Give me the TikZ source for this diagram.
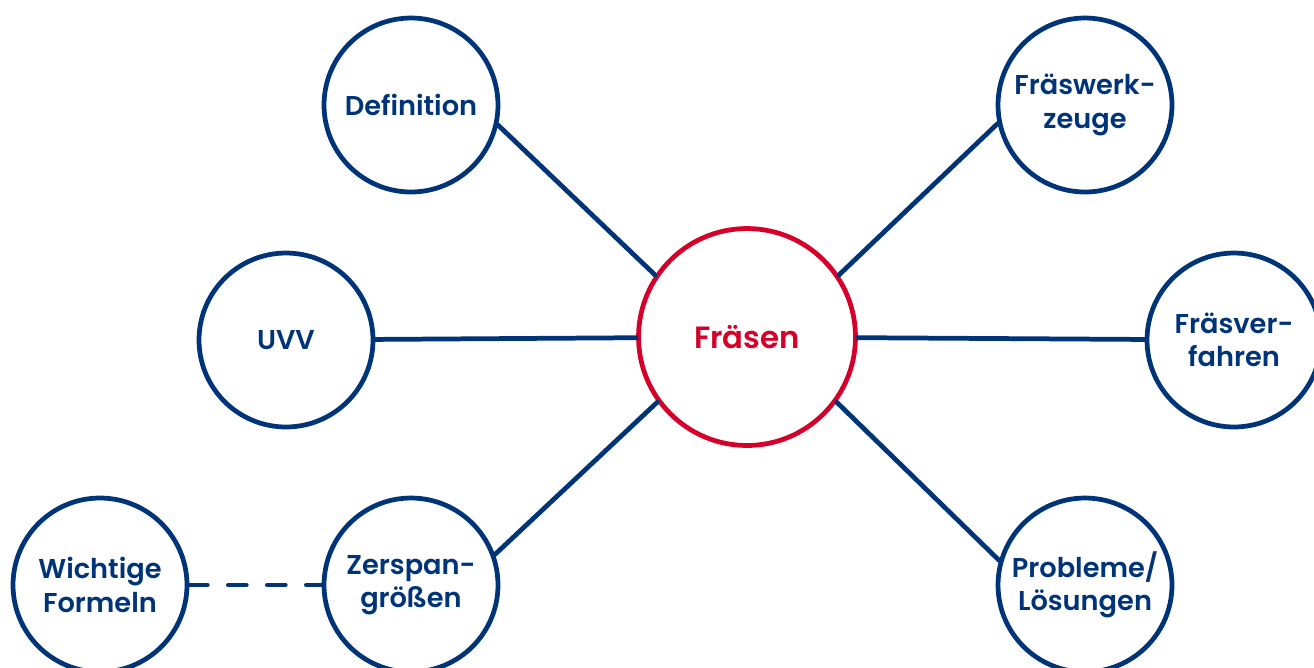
\documentclass[tikz,border=0pt]{standalone}
\usepackage{fontspec}
\setmainfont{Poppins}[BoldFont={Poppins SemiBold}]
\definecolor{blau}{RGB}{0,52,120}
\definecolor{rot}{RGB}{213,0,42}
\tikzset{
	kreis/.style={circle,draw=blau,text=blau,line width=2.7pt,minimum size=3.48cm,inner sep=0pt,align=center,font=\bfseries\fontsize{15.5}{19}\selectfont},
	mitte/.style={kreis,draw=rot,text=rot,minimum size=4.34cm,font=\bfseries\fontsize{17.5}{21}\selectfont},
	verbindung/.style={draw=blau,line width=2.7pt}
}
\begin{document}
\begin{tikzpicture}[x=0.02cm,y=-0.02cm,line join=round,line cap=round]
				\useasboundingbox (0,0) rectangle (1314,667);
				\path 
				(747,337) node[mitte] (F) {Fräsen}
				(411,105) node[kreis] (D) {Definition}
				(286,340) node[kreis] (U) {UVV}
				(411,585) node[kreis] (Z) {Zerspan-\\größen}
				(100,585) node[kreis] (W) {Wichtige\\Formeln}
				(1085,105) node[kreis] (FW) {Fräswerk-\\zeuge}
				(1234,340) node[kreis] (FV) {Fräsver-\\fahren}
				(1085,585) node[kreis] (P) {Probleme/\\Lösungen}
				;
				\foreach \a/\b in {D.-13/F.146,FW.192/F.34,Z.20/F.216,P.164/F.324}{
					\draw[verbindung] (\a)--(\b);
				};
				\draw[verbindung] (U)--(F) (F)--(FV);
				\draw[verbindung,dash pattern=on 0.36cm off 0.42cm] (W)--(Z);
			\end{tikzpicture}
\end{document}
